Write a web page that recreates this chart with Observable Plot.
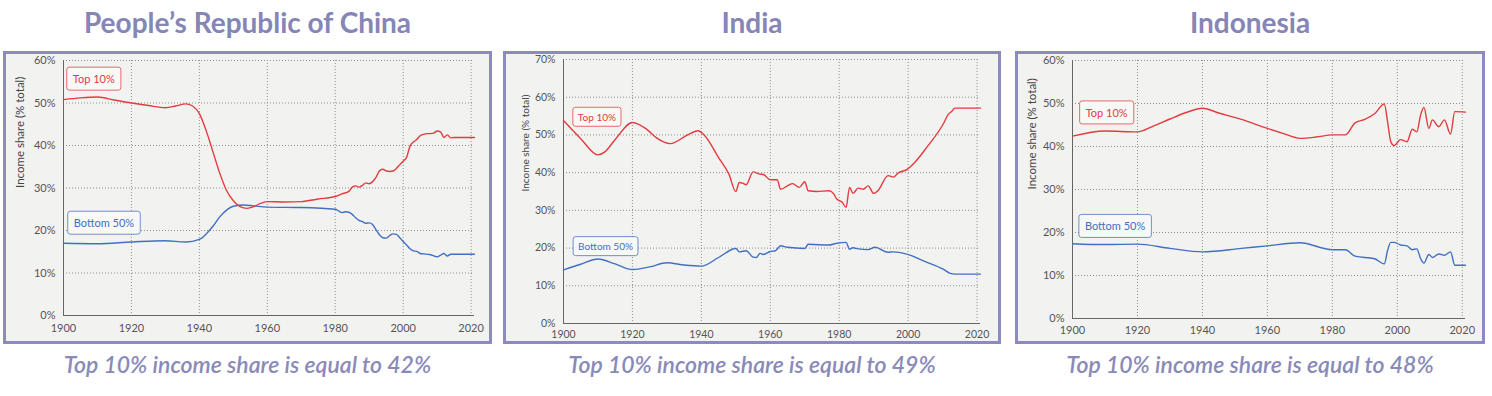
<!DOCTYPE html>
<html><head><meta charset="utf-8">
<script src="https://cdn.jsdelivr.net/npm/d3@7"></script>
<script src="https://cdn.jsdelivr.net/npm/@observablehq/plot@0.6"></script>
<style>
body{margin:0;background:#fff;}
#wrap{position:relative;width:1492px;height:396px;overflow:hidden;font-family:Lato,"Noto Sans",sans-serif;}
.title{position:absolute;top:8px;font-weight:700;font-size:28px;line-height:28px;color:#8585b6;text-align:center;white-space:nowrap;}
.box{position:absolute;top:51px;height:293px;border:3px solid #8b8bc0;background:#f2f2f0;box-sizing:border-box;}
.box svg{display:block;}
.cap{position:absolute;top:353px;font-style:italic;font-weight:600;font-size:23px;line-height:23px;color:#8a8ab8;text-align:center;white-space:nowrap;}
</style></head>
<body><div id="wrap"></div>
<script>
// ---------- data ----------
const xTicks = [1900, 1920, 1940, 1960, 1980, 2000, 2020];
const yTicks60 = [0, 10, 20, 30, 40, 50, 60];
const yTicks70 = [0, 10, 20, 30, 40, 50, 60, 70];
const countries = ["People’s Republic of China", "India", "Indonesia"];
const captions = ["Top 10% income share is equal to 42%", "Top 10% income share is equal to 49%", "Top 10% income share is equal to 48%"];
const seriesNames = ["Top 10%", "Bottom 50%"];
const yAxisLabel = "Income share (% total)";

const chinaTopYears = [1900,1905,1910,1915,1920,1925,1930,1933,1936,1938,1940,1942,1944,1946,1948,1950,1952,1954,1956,1958,1960,1965,1970,1975,1980,1982,1984,1985,1986,1987,1988,1989,1990,1991,1992,1993,1994,1995,1996,1997,1998,1999,2000,2001,2002,2003,2004,2005,2006,2007,2008,2009,2010,2011,2012,2013,2014,2015,2021];
const chinaTop = [50.8,51.2,51.4,50.7,50.0,49.4,48.9,49.3,49.8,49.3,47.5,43.5,38.5,33.5,29.4,27.0,25.6,25.2,25.6,26.4,26.8,26.7,26.8,27.4,28.0,28.6,29.2,30.2,30.5,30.2,30.6,31.2,31.0,31.5,32.5,34.0,34.4,34.0,33.9,34.0,34.6,35.5,36.3,37.2,39.8,40.8,41.4,42.3,42.6,42.8,42.8,42.9,43.4,43.2,41.9,42.5,41.8,41.9,41.9];
const chinaBottomYears = [1900,1910,1920,1930,1936,1940,1942,1944,1946,1948,1950,1953,1956,1960,1970,1980,1981,1982,1983,1984,1985,1986,1987,1988,1989,1990,1991,1992,1993,1994,1995,1996,1997,1998,1999,2000,2001,2002,2003,2004,2005,2006,2008,2010,2011,2012,2013,2014,2021];
const chinaBottom = [17.0,16.9,17.3,17.6,17.3,17.9,19.2,21.0,23.2,24.8,25.7,26.0,25.8,25.5,25.4,25.0,24.6,24.2,24.4,24.3,23.8,23.0,22.4,22.1,21.7,21.8,21.4,20.2,19.0,18.3,18.2,18.8,19.2,19.1,18.3,17.4,16.6,15.7,15.2,15.1,14.6,14.5,14.3,13.8,14.2,14.6,14.0,14.4,14.4];

const indiaTopYears = [1900,1905,1910,1912,1915,1920,1924,1927,1931,1936,1939,1941,1945,1948,1950,1951,1952,1953,1955,1957,1958,1960,1962,1963,1965,1966.5,1968.4,1970,1971,1973.5,1977,1978.3,1979.3,1980.8,1982,1983,1984,1985.5,1987,1988.4,1990,1991.3,1994.2,1995.7,1997.1,1999.6,2001.5,2005.4,2010.2,2011.7,2012.6,2013.6,2021];
const indiaTop = [53.8,49.0,44.7,45.5,48.8,53.3,51.6,49.2,47.7,50.0,51.1,49.8,44.0,39.6,35.0,37.4,37.2,36.8,40.2,39.6,39.5,38.1,38.1,35.6,36.5,37.1,36.1,37.6,35.2,35.0,35.2,34.5,33.0,32.2,30.8,36.1,34.5,35.9,35.6,36.5,34.5,35.3,39.2,38.8,39.9,40.8,42.3,46.7,52.9,55.5,56.2,57.1,57.1];
const indiaBottomYears = [1900,1905,1910,1915,1920,1925,1930,1935,1940,1945,1950,1951,1953,1955,1956,1957,1958,1960,1961.5,1963,1965,1970,1971,1977,1979,1982,1983,1984,1985.5,1988.4,1990.4,1994.2,1995.7,1999.6,2005,2010.2,2012.2,2013.6,2021];
const indiaBottom = [14.2,15.7,17.1,15.8,14.3,15.0,16.1,15.5,15.2,17.5,19.9,19.0,19.3,17.6,17.5,18.6,18.3,19.1,19.3,20.6,20.2,19.9,21.0,20.8,21.2,21.5,19.7,20.1,19.8,19.6,20.2,18.9,19.0,18.4,16.4,14.4,13.3,13.1,13.1];

const indonesiaTopYears = [1900,1910,1920,1925,1930,1935,1940,1945,1952,1960,1965,1970,1975,1980,1984,1987,1990,1993,1996,1997,1998,1999,2001,2003,2004.6,2006,2007.2,2008.2,2009.7,2010.8,2012.8,2014.5,2016.4,2017.7,2021];
const indonesiaTop = [42.4,43.6,43.4,44.8,46.4,47.9,48.9,47.8,46.3,44.2,43.0,41.9,42.2,42.7,42.7,45.5,46.3,47.6,49.9,45.8,41.1,40.2,41.6,41.1,44.0,43.4,47.4,49.1,44.2,46.2,44.6,46.2,42.9,48.1,48.0];
const indonesiaBottomYears = [1900,1910,1920,1930,1940,1952,1960,1970,1980,1984,1987,1993,1996,1997,1998,1999,2001,2003,2004.6,2006,2007.2,2008.2,2009.7,2010.8,2012.8,2014.5,2016.4,2017.7,2021];
const indonesiaBottom = [17.4,17.2,17.3,16.3,15.5,16.3,16.9,17.6,16.0,16.0,14.5,13.9,12.7,15.8,17.7,17.7,17.1,16.9,16.0,16.2,13.9,12.9,14.9,14.2,15.0,14.7,15.5,12.4,12.4];

// label anchors (year, %)
const chinaLabelPos = [[1908.9, 55.5], [1911.9, 21.6]];
const indiaLabelPos = [[1909.7, 54.6], [1912.2, 20.3]];
const indonesiaLabelPos = [[1910.5, 47.7], [1913.1, 21.3]];

// ---------- drawing ----------
const RED = "#e23b3f", BLUE = "#4170c2";
const wrap = document.getElementById("wrap");

const panels = [
  {left:3, boxW:489, mL:57, mR:15, mT:6, mB:26, yMax:60, yTicks:yTicks60, xPad:9, yLabX:14, yLabSize:11.5, tickSize:11, labSize:11, padX:6, padY:5,
   topYears:chinaTopYears, top:chinaTop, botYears:chinaBottomYears, bot:chinaBottom, lab:chinaLabelPos},
  {left:503, boxW:498, mL:57, mR:18, mT:5, mB:18, yMax:70, yTicks:yTicks70, xPad:7, yLabX:19, yLabSize:10, tickSize:10.5, labSize:10, padX:5, padY:3.5,
   topYears:indiaTopYears, top:indiaTop, botYears:indiaBottomYears, bot:indiaBottom, lab:indiaLabelPos},
  {left:1015, boxW:470, mL:54, mR:17, mT:6, mB:23, yMax:60, yTicks:yTicks60, xPad:8, yLabX:14, yLabSize:11.5, tickSize:11, labSize:11, padX:6, padY:5,
   topYears:indonesiaTopYears, top:indonesiaTop, botYears:indonesiaBottomYears, bot:indonesiaBottom, lab:indonesiaLabelPos}
];

panels.forEach((p, k) => {
  const t = document.createElement("div");
  t.className = "title"; t.textContent = countries[k];
  t.style.left = p.left + "px"; t.style.width = p.boxW + "px";
  wrap.appendChild(t);

  const box = document.createElement("div");
  box.className = "box"; box.style.left = p.left + "px"; box.style.width = p.boxW + "px";
  wrap.appendChild(box);

  const c = document.createElement("div");
  c.className = "cap"; c.textContent = captions[k];
  c.style.left = p.left + "px"; c.style.width = p.boxW + "px";
  wrap.appendChild(c);

  const topData = p.topYears.map((x, i) => ({x, y: p.top[i]}));
  const botData = p.botYears.map((x, i) => ({x, y: p.bot[i]}));
  const W = p.boxW - 6, H = 287;
  const svg = Plot.plot({
    width: W, height: H,
    marginLeft: p.mL, marginRight: p.mR, marginTop: p.mT, marginBottom: p.mB,
    style: {fontFamily: "Lato, 'Noto Sans', sans-serif", fontSize: p.tickSize + "px", color: "#555", background: "transparent", overflow: "visible"},
    x: {domain: [1900, 2021], ticks: xTicks, tickFormat: "d", tickSize: 0, tickPadding: p.xPad, label: null},
    y: {domain: [0, p.yMax], ticks: p.yTicks, tickFormat: d => d + "%", tickSize: 0, tickPadding: 8, label: null},
    marks: [
      Plot.ruleY(p.yTicks.slice(1), {stroke: "#8f8f8f", strokeDasharray: "1,2"}),
      Plot.ruleX(xTicks.slice(1), {stroke: "#8f8f8f", strokeDasharray: "1,2"}),
      Plot.ruleX([1900], {stroke: "#666"}),
      Plot.ruleY([0], {stroke: "#666"}),
      Plot.line(botData, {x: "x", y: "y", stroke: BLUE, strokeWidth: 1.4, curve: "monotone-x"}),
      Plot.line(topData, {x: "x", y: "y", stroke: RED, strokeWidth: 1.4, curve: "monotone-x"}),
      Plot.text([yAxisLabel], {text: d => d, frameAnchor: "left", rotate: -90, dx: -(p.mL - p.yLabX), fontSize: p.yLabSize, fill: "#444"}),
      Plot.text([{x: p.lab[0][0], y: p.lab[0][1], t: seriesNames[0]}], {x: "x", y: "y", text: "t", fill: RED, fontSize: p.labSize}),
      Plot.text([{x: p.lab[1][0], y: p.lab[1][1], t: seriesNames[1]}], {x: "x", y: "y", text: "t", fill: BLUE, fontSize: p.labSize})
    ]
  });
  box.appendChild(svg);
  const colors = {[seriesNames[0]]: RED, [seriesNames[1]]: BLUE};
  Array.from(svg.querySelectorAll("text")).filter(tx => tx.textContent in colors).forEach(tx => {
    const col = colors[tx.textContent];
    const b = tx.getBBox();
    const r = document.createElementNS("http://www.w3.org/2000/svg", "rect");
    r.setAttribute("x", b.x - p.padX); r.setAttribute("y", b.y - p.padY);
    r.setAttribute("width", b.width + 2 * p.padX); r.setAttribute("height", b.height + 2 * p.padY);
    r.setAttribute("rx", 2.5);
    r.setAttribute("fill", "#f8f8f7"); r.setAttribute("stroke", col); r.setAttribute("stroke-opacity", "0.75"); r.setAttribute("stroke-width", "1");
    if (tx.getAttribute("transform")) r.setAttribute("transform", tx.getAttribute("transform"));
    tx.parentNode.insertBefore(r, tx);
  });
});
</script></body></html>
